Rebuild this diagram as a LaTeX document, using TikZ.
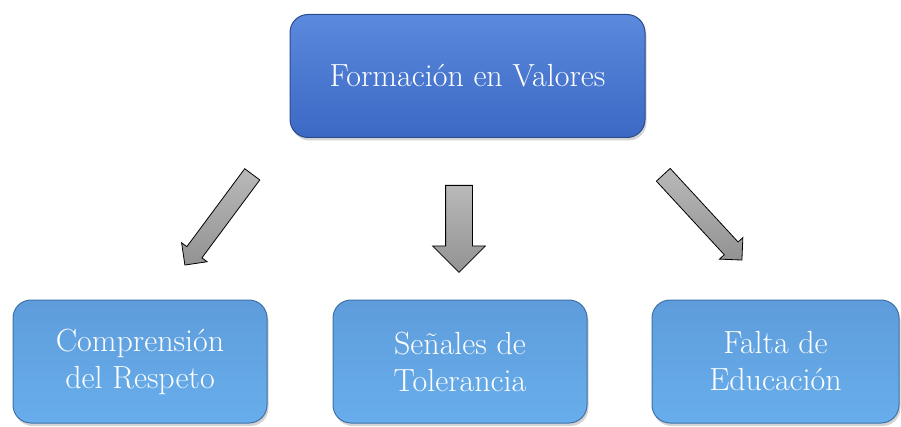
\documentclass[tikz,border=0pt]{standalone}
\usepackage{tikz}
\usetikzlibrary{shapes.arrows,shadows}

\definecolor{darktop}{HTML}{5A89DD}
\definecolor{darkbot}{HTML}{3C69C4}
\definecolor{darkedge}{HTML}{2A4C8E}
\definecolor{lighttop}{HTML}{5E9CDB}
\definecolor{lightbot}{HTML}{68AEEC}
\definecolor{lightedge}{HTML}{3F72A8}

\begin{document}
\begin{tikzpicture}[x=1pt,y=1pt,
	box/.style={rectangle,rounded corners=18pt,line width=1pt,text=white,align=center,
		minimum height=123pt,font=\fontsize{32}{37}\selectfont,
		drop shadow={opacity=0.35,shadow xshift=1.5pt,shadow yshift=-3pt}},
	mainbox/.style={box,draw=darkedge,top color=darktop,bottom color=darkbot,minimum width=355pt},
	subbox/.style={box,draw=lightedge,top color=lighttop,bottom color=lightbot,minimum width=254pt},
	grayarrow/.style={single arrow,draw=black,line width=0.8pt,top color=gray!55,bottom color=gray!85,
		single arrow tip angle=90,anchor=tail}]
\useasboundingbox (0,0) rectangle (901,426);
\node [mainbox] (a) at (467.5,350) {Formación en Valores};
\node [subbox] (b) at (140,64.5) {Comprensión\\del Respeto};
\node [subbox] (c) at (460,64.5) {Señales de\\Tolerancia};
\node [subbox,minimum width=247pt] (d) at (775.5,64.5) {Falta de\\Educación};
\node [grayarrow,inner sep=9pt,minimum height=113pt,single arrow head extend=6.5pt,rotate=233.4] (ab) at (252.5,252) {};
\node [grayarrow,inner sep=13pt,minimum height=87pt,single arrow head extend=13pt,rotate=-90] (ac) at (459,241) {};
\node [grayarrow,inner sep=9pt,minimum height=116pt,single arrow head extend=6.5pt,rotate=-47.3] (ad) at (663,251.5) {};
\end{tikzpicture}
\end{document}
